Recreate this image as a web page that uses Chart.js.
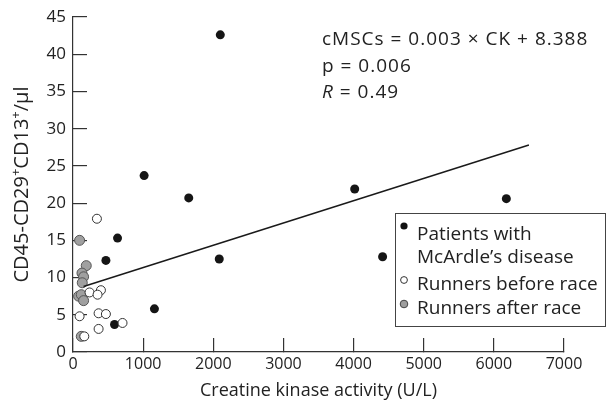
<!DOCTYPE html>
<html>
<head>
<meta charset="utf-8">
<script src="https://cdn.jsdelivr.net/npm/chart.js@4.4.1/dist/chart.umd.min.js"></script>
<style>
  html, body { margin: 0; padding: 0; background: #fff; }
  #wrap { width: 615px; height: 406px; }
</style>
</head>
<body>
<div id="wrap"><canvas id="chart" width="615" height="406"></canvas></div>
<script>
// patients with McArdle's disease
const patientsX = [2100, 1014, 1650, 4016, 6178, 635, 469, 2085, 4414, 1161, 592];
const patientsY = [42.6, 23.7, 20.7, 21.9, 20.6, 15.3, 12.3, 12.5, 12.8, 5.8, 3.7];

// runners before race
const beforeX = [341, 398, 236, 350, 94, 365, 469, 706, 365, 161];
const beforeY = [17.9, 8.3, 8.0, 7.7, 4.8, 5.2, 5.1, 3.9, 3.1, 2.1];

// runners after race
const afterX = [94, 189, 128, 151, 132, 80, 118, 151, 118];
const afterY = [15.0, 11.6, 10.6, 10.1, 9.3, 7.5, 7.7, 6.9, 2.1];

// regression line end points
const fitX = [150, 6500];
const fitY = [8.8, 27.8];

const xTicks = [0, 1000, 2000, 3000, 4000, 5000, 6000, 7000];
const yTicks = [0, 5, 10, 15, 20, 25, 30, 35, 40, 45];

const FONT = '"Open Sans", "Noto Sans", sans-serif';
const TXT = '#222';

function pts(xs, ys) {
    return xs.map((x, i) => ({ x: x, y: ys[i] }));
}

// titre y, équation et légende dessinés à la main
const extras = {
    id: 'extras',
    afterDraw(chart) {
        const ctx = chart.ctx;
        const area = chart.chartArea;

        // titre axe y avec exposants
        ctx.save();
        ctx.fillStyle = TXT;
        ctx.translate(28, (area.top + area.bottom) / 2);
        ctx.rotate(-Math.PI / 2);
        const parts = [['CD45-CD29', 20, 0], ['+', 13, -8], ['CD13', 20, 0], ['+', 13, -8], ['/μl', 20, 0]];
        let total = 0;
        parts.forEach(p => { ctx.font = p[1] + 'px ' + FONT; total += ctx.measureText(p[0]).width; });
        let cx = -total / 2;
        ctx.textBaseline = 'alphabetic';
        parts.forEach(p => {
            ctx.font = p[1] + 'px ' + FONT;
            ctx.fillText(p[0], cx, p[2]);
            cx += ctx.measureText(p[0]).width;
        });
        ctx.restore();

        // équation
        ctx.save();
        ctx.fillStyle = TXT;
        ctx.textBaseline = 'alphabetic';
        ctx.letterSpacing = '1px';
        ctx.font = '19px ' + FONT;
        ctx.fillText('cMSCs = 0.003 × CK + 8.388', 322, 45);
        ctx.fillText('p = 0.006', 322, 72);
        ctx.font = 'italic 19px ' + FONT;
        ctx.fillText('R', 322, 98);
        const rw = ctx.measureText('R').width;
        ctx.font = '19px ' + FONT;
        ctx.fillText(' = 0.49', 322 + rw, 98);
        ctx.letterSpacing = '0px';

        // légende
        ctx.strokeStyle = '#444';
        ctx.lineWidth = 1;
        ctx.fillStyle = '#fff';
        ctx.fillRect(395.5, 213.5, 210, 113);
        ctx.strokeRect(395.5, 213.5, 210, 113);
        ctx.fillStyle = TXT;
        ctx.font = '19px ' + FONT;
        ctx.fillText('Patients with', 417, 240);
        ctx.fillText('McArdle’s disease', 417, 263);
        ctx.fillText('Runners before race', 417, 290);
        ctx.fillText('Runners after race', 417, 314);
        const dot = (x, y, r, fill, stroke) => {
            ctx.beginPath();
            ctx.arc(x, y, r, 0, Math.PI * 2);
            ctx.fillStyle = fill;
            ctx.fill();
            if (stroke) { ctx.strokeStyle = stroke; ctx.stroke(); }
        };
        dot(404, 226, 3.6, '#111');
        dot(404, 280, 3.4, '#fff', '#333');
        dot(404, 304, 3.8, '#9e9e9e', '#444');
        ctx.restore();
    }
};

new Chart(document.getElementById('chart'), {
    type: 'scatter',
    data: {
        datasets: [
            {
                type: 'line',
                data: pts(fitX, fitY),
                borderColor: '#1a1a1a',
                borderWidth: 1.5,
                pointRadius: 0,
                fill: false
            },
            {
                label: 'Runners before race',
                data: pts(beforeX, beforeY),
                pointRadius: 4.5,
                backgroundColor: '#fff',
                borderColor: '#333',
                borderWidth: 1
            },
            {
                label: 'Runners after race',
                data: pts(afterX, afterY),
                pointRadius: 5,
                backgroundColor: '#a0a0a0',
                borderColor: '#555',
                borderWidth: 1
            },
            {
                label: "Patients with McArdle's disease",
                data: pts(patientsX, patientsY),
                pointRadius: 4.5,
                backgroundColor: '#151515',
                borderColor: '#151515',
                borderWidth: 0
            }
        ]
    },
    options: {
        responsive: false,
        animation: false,
        layout: { padding: { left: 0, right: 51, top: 17, bottom: 0 } },
        plugins: { legend: { display: false }, tooltip: { enabled: false } },
        scales: {
            x: {
                type: 'linear',
                min: 0, max: 7000,
                afterBuildTicks: s => { s.ticks = xTicks.map(v => ({ value: v })); },
                afterFit: s => { s.height = 54; s.paddingLeft = 0; s.paddingRight = 0; },
                grid: { display: true, drawOnChartArea: false, drawTicks: true, tickLength: -14,
                        color: '#333', lineWidth: 1.2 },
                border: { display: true, color: '#333', width: 1.2 },
                ticks: { color: TXT, font: { family: FONT, size: 16 }, padding: 17, maxRotation: 0,
                         callback: v => String(v) },
                title: { display: true, text: 'Creatine kinase activity (U/L)', color: TXT,
                         font: { family: FONT, size: 18 }, padding: { top: 0 } }
            },
            y: {
                type: 'linear',
                min: 0, max: 45,
                afterBuildTicks: s => { s.ticks = yTicks.map(v => ({ value: v })); },
                afterFit: s => { s.width = 73; s.paddingTop = 0; s.paddingBottom = 0; },
                grid: { display: true, drawOnChartArea: false, drawTicks: true, tickLength: -14,
                        color: '#333', lineWidth: 1.2 },
                border: { display: true, color: '#333', width: 1.2 },
                ticks: { color: TXT, font: { family: FONT, size: 17 }, padding: 21 }
            }
        }
    },
    plugins: [extras]
});
</script>
</body>
</html>
